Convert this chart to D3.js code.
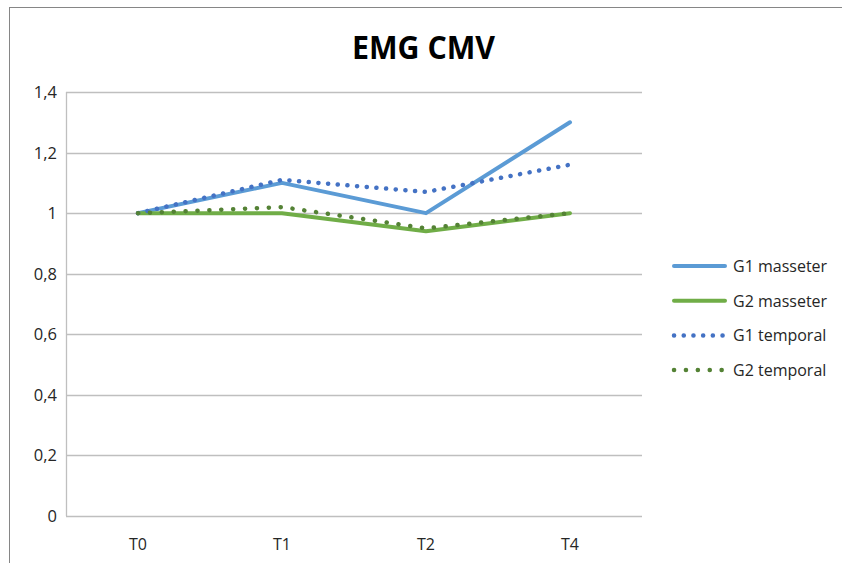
<!DOCTYPE html>
<html>
<head>
<meta charset="utf-8">
<script src="https://cdn.jsdelivr.net/npm/d3@7"></script>
<style>
  body { margin: 0; background: #fff; }
  svg { display: block; font-family: 'Open Sans', 'Noto Sans', sans-serif; }
</style>
</head>
<body>
<svg></svg>
<script>
// data
const categories = ['T0', 'T1', 'T2', 'T4'];
const seriesNames = ['G1 masseter', 'G2 masseter', 'G1 temporal', 'G2 temporal'];
const g1Masseter = [1, 1.1, 1.0, 1.3];
const g2Masseter = [1, 1.0, 0.94, 1.0];
const g1Temporal = [1, 1.11, 1.07, 1.16];
const g2Temporal = [1, 1.02, 0.95, 1.0];
const yTicks = [0, 0.2, 0.4, 0.6, 0.8, 1, 1.2, 1.4];

const width = 842;
const height = 563;
const svg = d3.select('svg').attr('width', width).attr('height', height);

// chart frame (runs past the window on right and bottom)
svg.append('rect')
  .attr('x', 9.5).attr('y', 7.5)
  .attr('width', 900).attr('height', 600)
  .attr('fill', '#fff')
  .attr('stroke', '#868686')
  .attr('stroke-width', 1);

// title
svg.append('text')
  .attr('x', 352).attr('y', 59)
  .attr('font-size', 33)
  .attr('font-weight', 'bold')
  .attr('fill', '#000')
  .attr('textLength', 143)
  .attr('lengthAdjust', 'spacingAndGlyphs')
  .text('EMG CMV');

const x = d3.scaleBand().domain(categories).range([66, 642]);
const y = d3.scaleLinear().domain([0, 1.4]).range([516, 92]);

// gridlines
svg.append('g')
  .selectAll('line')
  .data(yTicks)
  .enter()
  .append('line')
  .attr('x1', 66).attr('x2', 642)
  .attr('y1', d => Math.round(y(d)) + 0.5)
  .attr('y2', d => Math.round(y(d)) + 0.5)
  .attr('stroke', '#bfbfbf')
  .attr('stroke-width', 1.3);

// y axis line
svg.append('line')
  .attr('x1', 66.5).attr('x2', 66.5)
  .attr('y1', y(1.4)).attr('y2', y(0))
  .attr('stroke', '#bfbfbf')
  .attr('stroke-width', 1.3);

// y tick labels
const fmt = d => String(Math.round(d * 10) / 10).replace('.', ',');
svg.append('g')
  .selectAll('text')
  .data(yTicks)
  .enter()
  .append('text')
  .attr('x', 57)
  .attr('y', d => y(d) + 6)
  .attr('text-anchor', 'end')
  .attr('font-size', 16.5)
  .attr('fill', '#262626')
  .text(fmt);

// x labels
svg.append('g')
  .selectAll('text')
  .data(categories)
  .enter()
  .append('text')
  .attr('x', d => x(d) + x.bandwidth() / 2)
  .attr('y', 550)
  .attr('text-anchor', 'middle')
  .attr('font-size', 16)
  .attr('fill', '#262626')
  .text(d => d);

const series = [
  { name: seriesNames[0], values: g1Masseter, color: '#5b9bd5', dash: null },
  { name: seriesNames[1], values: g2Masseter, color: '#70ad47', dash: null },
  { name: seriesNames[2], values: g1Temporal, color: '#4472c4', dash: '0.1 9.6' },
  { name: seriesNames[3], values: g2Temporal, color: '#548235', dash: '0.1 11.8' }
];

const line = d3.line()
  .x((d, i) => x(categories[i]) + x.bandwidth() / 2)
  .y(d => y(d));

// lines
series.forEach(s => {
  svg.append('path')
    .datum(s.values)
    .attr('d', line)
    .attr('fill', 'none')
    .attr('stroke', s.color)
    .attr('stroke-width', s.dash ? 4.5 : 4)
    .attr('stroke-linecap', 'round')
    .attr('stroke-linejoin', 'round')
    .attr('stroke-dasharray', s.dash);
});

// legend
const legend = svg.append('g')
  .selectAll('g')
  .data(series)
  .enter()
  .append('g')
  .attr('transform', (d, i) => `translate(0,${266 + i * 34.7})`);

legend.append('line')
  .attr('x1', 674).attr('x2', 725)
  .attr('y1', 0).attr('y2', 0)
  .attr('stroke', d => d.color)
  .attr('stroke-width', d => d.dash ? 4.5 : 4)
  .attr('stroke-linecap', 'round')
  .attr('stroke-dasharray', d => d.dash);

legend.append('text')
  .attr('x', 733)
  .attr('y', 6)
  .attr('font-size', 16)
  .attr('fill', '#262626')
  .text(d => d.name);
</script>
</body>
</html>
